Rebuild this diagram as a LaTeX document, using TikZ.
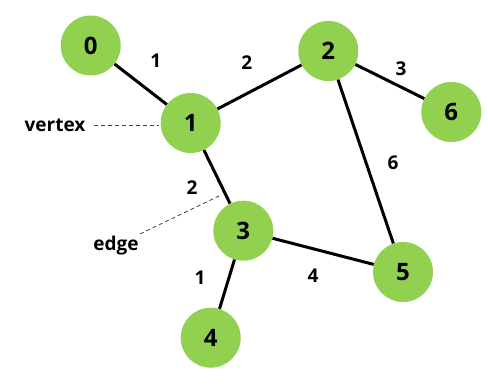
\documentclass[tikz,border=0pt]{standalone}
\usepackage{fontspec}
\setmainfont{Open Sans}
\begin{document}
\begin{tikzpicture}[x=1pt,y=-1pt,
  vtx/.style={circle,fill=vgreen,minimum size=60pt,inner sep=0pt,font=\fontsize{24}{24}\selectfont\bfseries},
  edg/.style={line width=3pt,black},
  lbl/.style={font=\fontsize{19}{19}\selectfont\bfseries,inner sep=0pt},
  note/.style={font=\fontsize{19}{19}\selectfont\bfseries,inner sep=0pt},
  pointer/.style={dashed,line width=0.8pt,black!75,dash pattern=on 4pt off 3pt}]
\definecolor{vgreen}{HTML}{92D050}
\useasboundingbox (0,0) rectangle (488,387);
\node[vtx] (n0) at (90.7,45.5) {0};
\node[vtx] (n1) at (190.7,123) {1};
\node[vtx] (n2) at (328.3,51) {2};
\node[vtx] (n6) at (451.3,112) {6};
\node[vtx] (n3) at (243.3,230.7) {3};
\node[vtx] (n5) at (403,272) {5};
\node[vtx] (n4) at (210.7,337.7) {4};
\draw[edg] (n0) -- (n1);
\draw[edg] (n1) -- (n2);
\draw[edg] (n2) -- (n6);
\draw[edg] (n2) -- (n5);
\draw[edg] (n1) -- (n3);
\draw[edg] (n3) -- (n5);
\draw[edg] (n3) -- (n4);
\node[lbl] (l01) at (155.7,61) {1};
\node[lbl] (l12) at (246.7,63) {2};
\node[lbl] (l26) at (401,69) {3};
\node[lbl] (l25) at (393,163) {6};
\node[lbl] (l13) at (192,188) {2};
\node[lbl] (l34) at (200,278) {1};
\node[lbl] (l35) at (313,276) {4};
\node[note] (vt) at (55,125.5) {vertex};
\node[note] (ed) at (116,246) {edge};
\coordinate (v1) at (94,125.7);
\coordinate (v2) at (159,125.7);
\coordinate (e1) at (140,234);
\coordinate (e2) at (221,195);
\draw[pointer] (v1) -- (v2);
\draw[pointer] (e1) -- (e2);
\end{tikzpicture}
\end{document}
